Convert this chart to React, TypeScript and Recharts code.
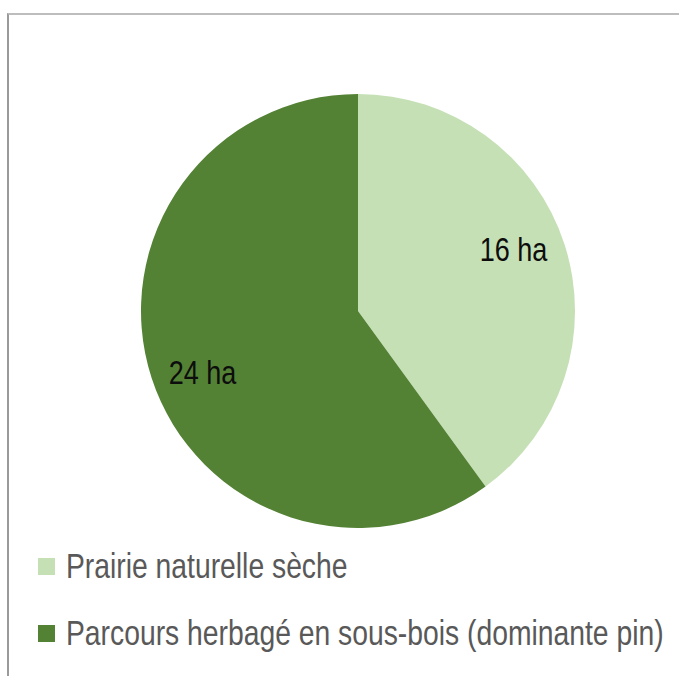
import { PieChart, Pie, Cell, Legend } from "recharts";

const categories = ["Prairie naturelle sèche", "Parcours herbagé en sous-bois (dominante pin)"];
const surfaces = [16, 24];
const unit = "ha";
const colors = ["#C5E0B4", "#548235"];

const data = categories.map((name, i) => ({ name, value: surfaces[i] }));

// no narrow font installed: Liberation Sans squeezed horizontally instead
const FONT = '"Liberation Sans", Arial, sans-serif';
const SQUEEZE = 0.82;
const RAD = Math.PI / 180;

function renderLabel(props: any) {
  const { cx, cy, midAngle, outerRadius, value } = props;
  // labels sit a little counter-clockwise of the slice middle, like the source
  const a = midAngle + 3.5;
  const r = outerRadius * 0.77;
  const x = cx + r * Math.cos(-a * RAD);
  const y = cy + r * Math.sin(-a * RAD);
  return (
    <text
      transform={`translate(${x},${y}) scale(${SQUEEZE},1)`}
      fill="#0d0d0d"
      fontSize={33}
      fontFamily={FONT}
      textAnchor="middle"
      dominantBaseline="central"
    >
      {`${value} ${unit}`}
    </text>
  );
}

function renderLegend(props: any) {
  const { payload } = props;
  return (
    <div>
      {payload.map((p: any, i: number) => (
        <div key={i} style={{ display: "flex", alignItems: "center", height: 67, whiteSpace: "nowrap" }}>
          <span style={{ display: "inline-block", width: 17, height: 17, background: p.color, marginRight: 11, flex: "none" }} />
          <span
            style={{
              display: "inline-block",
              fontFamily: FONT,
              fontSize: 34.5,
              color: "#595959",
              transform: `scaleX(${SQUEEZE})`,
              transformOrigin: "left center",
            }}
          >
            {p.value}
          </span>
        </div>
      ))}
    </div>
  );
}

export default function App() {
  return (
    <div style={{ position: "fixed", left: 0, top: 0, width: 679, height: 676, background: "#fff", overflow: "hidden" }}>
      <div style={{ position: "absolute", left: 7, top: 13, width: 700, height: 700, borderTop: "2px solid #bdbdbd", borderLeft: "2px solid #9a9a9a" }} />
      <div style={{ position: "absolute", left: 0, top: 0 }}>
        <PieChart width={679} height={676} margin={{ top: 0, right: 0, bottom: 0, left: 0 }}>
          <Pie
            data={data}
            dataKey="value"
            nameKey="name"
            cx={358}
            cy={311}
            outerRadius={217}
            startAngle={90}
            endAngle={-270}
            stroke="none"
            labelLine={false}
            label={renderLabel}
            isAnimationActive={false}
          >
            {data.map((d, i) => (
              <Cell key={d.name} fill={colors[i]} />
            ))}
          </Pie>
          <Legend
            layout="vertical"
            verticalAlign="middle"
            align="center"
            itemSorter={(item: any) => categories.indexOf(item.value)}
            content={renderLegend}
            wrapperStyle={{ position: "absolute", left: 38, top: 533, width: 640 }}
          />
        </PieChart>
      </div>
    </div>
  );
}
